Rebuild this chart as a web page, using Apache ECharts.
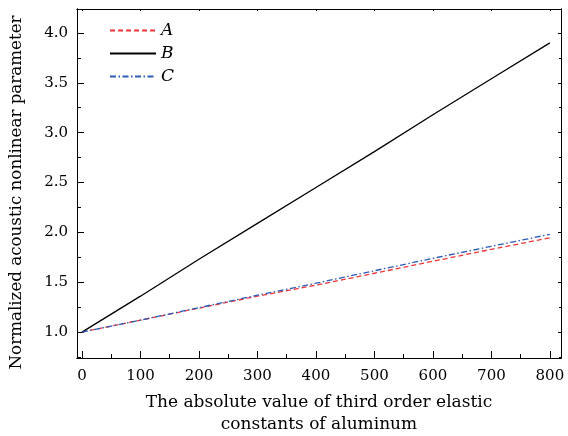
<!DOCTYPE html>
<html><head><meta charset="utf-8">
<script src="https://cdn.jsdelivr.net/npm/echarts@6/dist/echarts.min.js"></script>
<style>html,body{margin:0;padding:0;background:#fff}#c{width:568px;height:436px}</style>
</head><body><div id="c"></div>
<script>
const xValues = [0, 100, 200, 300, 400, 500, 600, 700, 800];
const seriesA = [1.0, 1.12, 1.24, 1.36, 1.47, 1.59, 1.71, 1.83, 1.945];
const seriesB = [1.0, 1.36, 1.73, 2.09, 2.45, 2.81, 3.18, 3.54, 3.90];
const seriesC = [1.0, 1.12, 1.245, 1.37, 1.49, 1.615, 1.74, 1.86, 1.98];
const xTicks = [0, 100, 200, 300, 400, 500, 600, 700, 800];
const xMinor = [50, 150, 250, 350, 450, 550, 650, 750];
const yTicks = [1.0, 1.5, 2.0, 2.5, 3.0, 3.5, 4.0];
const yMinor = [0.75, 1.25, 1.75, 2.25, 2.75, 3.25, 3.75];
const names = ['A', 'B', 'C'];

const FONT = 'DejaVu Serif';
const XMIN = -8.5, XMAX = 819, YMIN = 0.74, YMAX = 4.24;
const lineCol = '#000';

function xa(pos, ticks, len, labels, extra) {
  return Object.assign({
    type: 'value', position: pos, min: XMIN, max: XMAX,
    axisLine: {show: true, onZero: false, lineStyle: {color: lineCol, width: 1}},
    axisTick: {show: true, inside: true, length: len, customValues: ticks, lineStyle: {color: lineCol, width: 1}},
    axisLabel: labels ? {show: true, customValues: ticks, margin: 11, color: '#000', fontFamily: FONT, fontSize: 15} : {show: false},
    splitLine: {show: false}
  }, extra || {});
}
function ya(pos, ticks, len, labels, extra) {
  return Object.assign({
    type: 'value', position: pos, min: YMIN, max: YMAX,
    axisLine: {show: true, onZero: false, lineStyle: {color: lineCol, width: 1}},
    axisTick: {show: true, inside: true, length: len, customValues: ticks, lineStyle: {color: lineCol, width: 1}},
    axisLabel: labels ? {show: true, customValues: ticks, margin: 9, color: '#000', fontFamily: FONT, fontSize: 15,
      formatter: v => Number(v).toFixed(1)} : {show: false},
    splitLine: {show: false}
  }, extra || {});
}

const chart = echarts.init(document.getElementById('c'));
chart.setOption({
  animation: false,
  grid: {left: 77, right: 7, top: 9, bottom: 78, containLabel: false, outerBoundsMode: 'none'},
  legend: {
    data: names, orient: 'vertical', left: 104, top: 17,
    itemWidth: 46, itemHeight: 14, itemGap: 6,
    itemStyle: {opacity: 0},
    textStyle: {fontFamily: FONT, fontStyle: 'italic', fontSize: 17, color: '#000'}
  },
  xAxis: [
    xa('bottom', xTicks, 7, true, {
      name: 'The absolute value of third order elastic\nconstants of aluminum',
      nameLocation: 'middle', nameGap: 34,
      nameTextStyle: {fontFamily: FONT, fontSize: 17, color: '#000', lineHeight: 22}
    }),
    xa('bottom', xMinor, 4, false),
    xa('top', xTicks, 2, false),
    xa('top', xMinor, 1, false)
  ],
  yAxis: [
    ya('left', yTicks, 7, true, {
      name: 'Normalized acoustic nonlinear parameter',
      nameLocation: 'middle', nameGap: 52,
      nameTextStyle: {fontFamily: FONT, fontSize: 16.7, color: '#000', padding: [0, 18, 0, 0]}
    }),
    ya('left', yMinor, 4, false),
    ya('right', yTicks, 3, false),
    ya('right', yMinor, 2, false)
  ],
  series: [
    {name: 'A', type: 'line', data: xValues.map((x, i) => [x, seriesA[i]]), symbol: 'none',
      lineStyle: {color: '#f0353a', width: 1.3, type: [5, 3]}, itemStyle: {color: '#f0353a'}},
    {name: 'B', type: 'line', data: xValues.map((x, i) => [x, seriesB[i]]), symbol: 'none',
      lineStyle: {color: '#000', width: 1.3, type: 'solid'}, itemStyle: {color: '#000'}},
    {name: 'C', type: 'line', data: xValues.map((x, i) => [x, seriesC[i]]), symbol: 'none',
      lineStyle: {color: '#2a5cb8', width: 1.3, type: [6, 2.5, 1.5, 2.5]}, itemStyle: {color: '#2a5cb8'}}
  ]
});
</script></body></html>
